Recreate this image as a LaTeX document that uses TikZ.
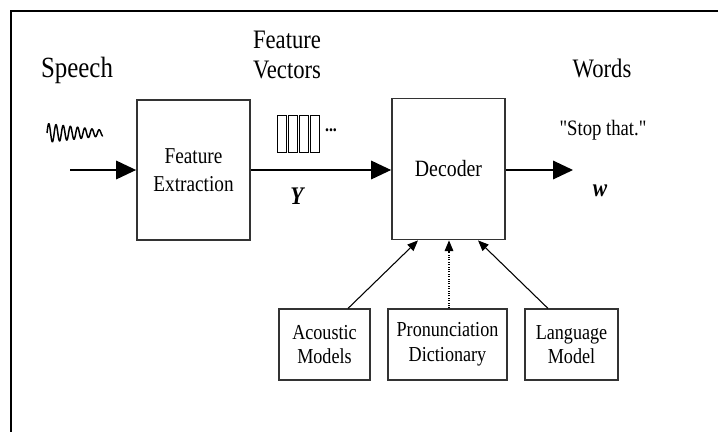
\documentclass[tikz,border=0pt]{standalone}
\usepackage{fontspec}
\setmainfont{Liberation Serif}[FakeStretch=0.85]
\newfontfamily\plainserif{Liberation Serif}[FakeStretch=0.85]
\usetikzlibrary{arrows.meta}
\usetikzlibrary{positioning}

\tikzset{
    block/.style={draw=black!80, line width=1.1pt, align=center, inner sep=0pt},
    smallblock/.style={block, minimum height=53pt, font=\fontsize{16}{18.5}\selectfont},
    label/.style={align=center, font=\fontsize{20}{22.5}\selectfont},
    bigarrow/.style={line width=0.9pt, -{Triangle[length=15pt, width=14pt]}},
    smallarrow/.style={line width=0.8pt, -{Triangle[length=8pt, width=6.5pt]}}
}

\begin{document}
\begin{tikzpicture}[x=0.75pt, y=-0.75pt]
        \useasboundingbox (0,0) rectangle (720,432);
        % frame
        \draw[line width=1.7pt] (718,11) -- (11,11) -- (11,432);

        % main blocks
        \node[block, minimum width=85pt, minimum height=105pt, font=\fontsize{17}{21}\selectfont] (extract) at (193.5,170) {Feature\\Extraction};
        \node[block, minimum width=85pt, minimum height=106pt, font=\fontsize{17.5}{21}\selectfont] (decoder) at (448.5,169) {Decoder};

        % knowledge sources
        \node[smallblock, minimum width=68pt] (acoustic) at (324.5,344.5) {Acoustic\\Models};
        \node[smallblock, minimum width=89pt] (pron) at (447.5,344.5) {Pronunciation\\Dictionary};
        \node[smallblock, minimum width=70pt] (lang) at (571.5,344.5) {Language\\Model};

        % labels
        \node[label, font=\fontsize{22}{24}\selectfont] (speech) at (77,70) {Speech};
        \node[label] (vectors) at (287,55) {Feature\\Vectors};
        \node[label] (words) at (602,68) {Words};
        \node[font=\plainserif\fontsize{16.5}{18}\selectfont] (quote) at (603,130) {"Stop that."};
        \node[font=\fontsize{19}{20}\selectfont\bfseries\itshape] (ysym) at (297,196) {Y};
        \node[font=\fontsize{19}{20}\selectfont\bfseries\itshape] (wsym) at (600,191) {w};

        % speech waveform
        \draw[line width=1.1pt, line join=round] plot[domain=0:56, samples=220, smooth]
            (47+\x, {133-(9.5-0.12*\x)*sin(\x/7.2*360)});

        % feature vectors
        \foreach \i in {0,...,3}
            \draw[line width=0.7pt] (277+\i*11,115) rectangle (286+\i*11,152);
        \node[font=\fontsize{14}{14}\selectfont\bfseries] (dots) at (331,130) {...};

        % connectors
        \coordinate (in) at (70,170);
        \coordinate (out) at (573,170);
        \draw[bigarrow] (in) -- (extract.west);
        \draw[bigarrow] (extract.east |- 0,170) -- (decoder.west |- 0,170);
        \draw[bigarrow] (decoder.east |- 0,170) -- (out);
        \draw[smallarrow] (acoustic.north -| 348,0) -- (decoder.south -| 418,0);
        \draw[smallarrow, densely dotted] (pron.north -| 449,0) -- (decoder.south -| 449,0);
        \draw[smallarrow] (lang.north -| 548,0) -- (decoder.south -| 478,0);
    \end{tikzpicture}
\end{document}
